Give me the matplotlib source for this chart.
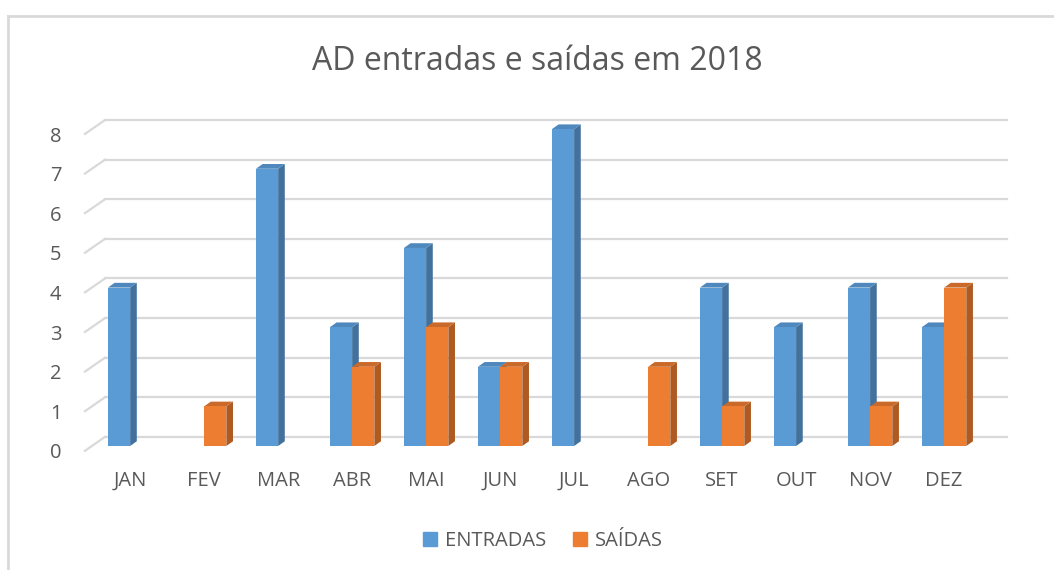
import matplotlib.pyplot as plt
from matplotlib.patches import Polygon, Patch
from matplotlib.transforms import ScaledTranslation
import numpy as np

plt.rcParams['font.family'] = ['Open Sans', 'DejaVu Sans']

months = ['JAN', 'FEV', 'MAR', 'ABR', 'MAI', 'JUN', 'JUL', 'AGO', 'SET', 'OUT', 'NOV', 'DEZ']
entradas = [4, 0, 7, 3, 5, 2, 8, 0, 4, 3, 4, 3]
saidas = [0, 1, 0, 2, 3, 2, 0, 2, 1, 0, 1, 4]
title = 'AD entradas e saídas em 2018'

text_col = '#595959'
grid_col = '#d9d9d9'
series = [
    ('ENTRADAS', entradas, -0.3, '#5b9bd5', '#41719c', '#4f88bd'),
    ('SAÍDAS', saidas, 0.0, '#ed7d31', '#ae5a21', '#c9692a'),
]
bw = 0.3      # bar width
ddx, ddy = 0.09, 0.12    # bar depth offset
wdx, wdy = 0.27, 0.23    # back wall offset

fig = plt.figure(figsize=(10.54, 5.7), dpi=100)
ax = fig.add_axes([85 / 1054, (570 - 446) / 570, 902 / 1054, 340.6 / 570])
x0, x1 = -0.61, 11.58
ax.set_xlim(x0, x1)
ax.set_ylim(0, 8.6)

# back wall gridlines + diagonal floor/wall edge
for v in range(9):
    ax.plot([x0 + wdx, x1 + wdx], [v + wdy, v + wdy], color=grid_col, lw=1.6,
            clip_on=False, zorder=1)
    ax.plot([x0, x0 + wdx], [v - 0.12, v + wdy], color=grid_col, lw=1.6,
            clip_on=False, zorder=1)

# 3d-looking bars
x = np.arange(len(months))
for name, vals, off, front, side, top in series:
    for xi, v in zip(x, vals):
        if v == 0:
            continue
        l = xi + off
        r = l + bw
        ax.add_patch(Polygon([(r, 0), (r, v), (r + ddx, v + ddy), (r + ddx, ddy)],
                             closed=True, fc=side, ec='none', zorder=3, clip_on=False))
        ax.add_patch(Polygon([(l, v), (r, v), (r + ddx, v + ddy), (l + ddx, v + ddy)],
                             closed=True, fc=top, ec='none', zorder=3, clip_on=False))
    ax.bar(x + off, vals, width=bw, align='edge', color=front, zorder=4, clip_on=False)

for s in ax.spines.values():
    s.set_visible(False)
ax.set_xticks(x)
ax.set_xticklabels(months)
ax.set_yticks(range(9))
ax.tick_params(length=0, labelsize=14.5, labelcolor=text_col)
ax.tick_params(axis='x', pad=18)
ax.tick_params(axis='y', pad=17)
off = ScaledTranslation(0, -5 / 100, fig.dpi_scale_trans)
for lab in ax.get_yticklabels():
    lab.set_transform(lab.get_transform() + off)

fig.text(537 / 1054, 1 - 62 / 570, title, ha='center', va='center',
         fontsize=23, color=text_col)

handles = [Patch(color=s[3]) for s in series]
fig.legend(handles, [s[0] for s in series], loc='center', ncol=2,
           bbox_to_anchor=(543 / 1054, 1 - 541 / 570), frameon=False,
           fontsize=14.5, labelcolor=text_col, handlelength=0.7, handleheight=0.7,
           handletextpad=0.4, columnspacing=1.3)

# chart area border (left and top edges visible)
fig.add_artist(plt.Line2D([8 / 1054, 8 / 1054], [0, 1 - 16 / 570], color='#d9d9d9',
                          lw=2, transform=fig.transFigure))
fig.add_artist(plt.Line2D([8 / 1054, 1], [1 - 16 / 570, 1 - 16 / 570], color='#d9d9d9',
                          lw=2, transform=fig.transFigure))

fig.savefig('out.png', dpi=100)
